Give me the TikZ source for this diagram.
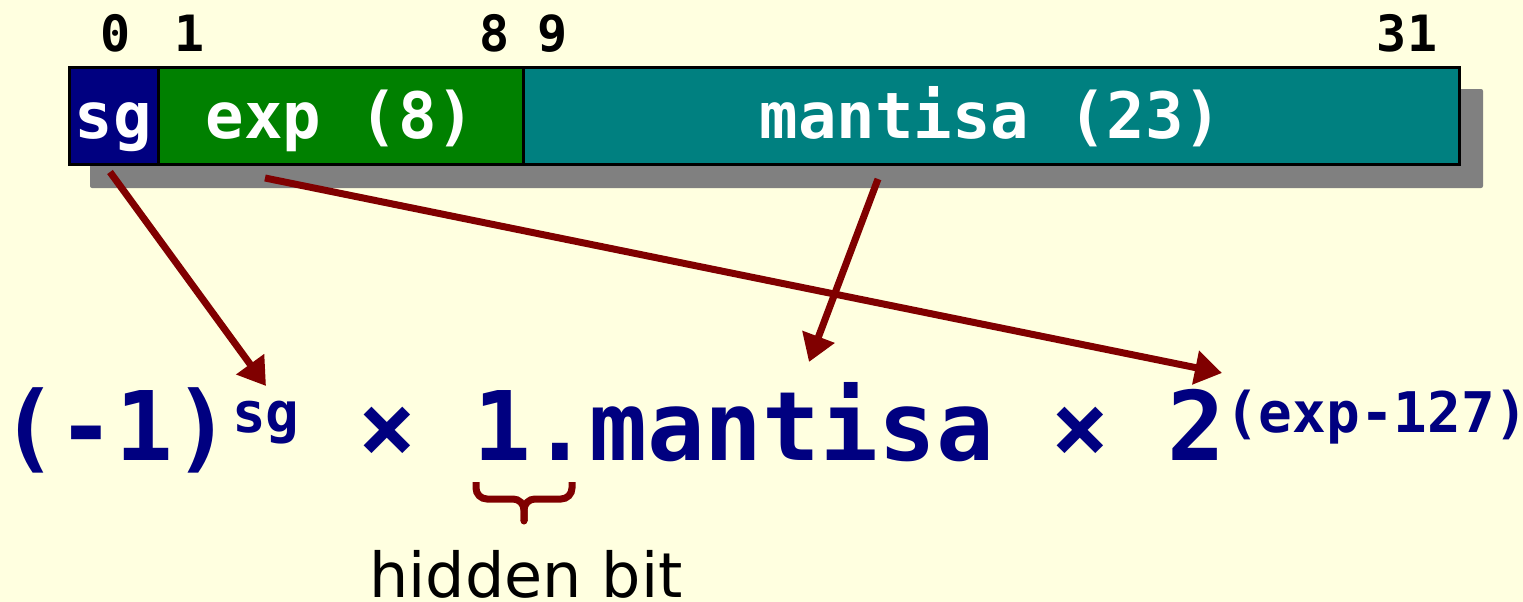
\documentclass[tikz,border=0pt]{standalone}
\usepackage{fontspec}
\setmainfont{DejaVu Sans}
\setmonofont{DejaVu Sans Mono}
\usetikzlibrary{arrows.meta}

\definecolor{paper}{HTML}{FFFFE0}
\definecolor{signblue}{HTML}{000080}
\definecolor{expgreen}{HTML}{008000}
\definecolor{fracteal}{HTML}{008080}
\definecolor{shadowgray}{HTML}{808080}
\definecolor{linkred}{HTML}{800000}

\newcommand{\monosize}[1]{\ttfamily\bfseries\fontsize{#1}{#1}\selectfont}

\tikzset{
  field/.style={draw=black, line width=3pt, minimum height=96pt, inner sep=0pt,
    outer sep=0pt, anchor=west, text=white, font=\monosize{64},
    text height=50pt, text depth=6pt},
  bitno/.style={anchor=base, inner sep=0pt, font=\monosize{50}, text=black},
  formula/.style={anchor=base west, inner sep=0pt, font=\monosize{96}, text=signblue},
  power/.style={anchor=base west, inner sep=0pt, font=\monosize{56}, text=signblue},
  link/.style={draw=linkred, line width=7pt, -{Triangle[length=27pt,width=33pt]}},
  brace/.style={draw=linkred, line width=7pt, rounded corners=11pt},
}

\begin{document}
\begin{tikzpicture}[x=1pt, y=-1pt]
  % page
  \fill[paper] (0,0) rectangle (1523,602);
  \useasboundingbox (0,0) rectangle (1523,602);

  % drop shadow behind the word
  \fill[shadowgray, rounded corners=2pt] (90,89) rectangle (1483,188);

  % the three fields of a single-precision word
  \node[field, fill=signblue, minimum width=89pt] (sg) at (69,116) {sg};
  \node[field, fill=expgreen, minimum width=365pt] (ex) at (158,116) {exp (8)};
  \node[field, fill=fracteal, minimum width=936pt] (ma) at (523,116) {mantisa (23)};

  % bit positions
  \node[bitno] (b0) at (116,52) {0};
  \node[bitno] (b1) at (190,52) {1};
  \node[bitno] (b8) at (495,52) {8};
  \node[bitno] (b9) at (553,52) {9};
  \node[bitno] (b31) at (1407,52) {31};

  % value formula
  \node[formula] (neg) at (0,460) {(-1)};
  \node[power] (sgexp) at (232,432) {sg};
  \node[formula] (sig) at (358,460) {× 1.mantisa × 2};
  \node[power] (eexp) at (1225,432) {(exp-127)};

  % where each field goes
  \coordinate (sgend) at (266,386);
  \coordinate (exend) at (1222,373);
  \coordinate (maend) at (809,362);
  \draw[link] ([shift={(-3.5,8)}]sg.south) -- (sgend);
  \draw[link] ([shift={(-75.5,14)}]ex.south) -- (exend);
  \draw[link] ([shift={(-113,15)}]ma.south) -- (maend);

  % brace under the implicit leading one
  \draw[brace] (476,482) -- (476,499) -- (524,499) -- (524,521);
  \draw[brace] (572,482) -- (572,499) -- (524,499) -- (524,521);
  \fill[linkred] (524,521) circle (3.5pt);
  \node[anchor=base, inner sep=0pt, font=\fontsize{62}{62}\selectfont] (hb) at (526,597) {hidden bit};
\end{tikzpicture}
\end{document}
